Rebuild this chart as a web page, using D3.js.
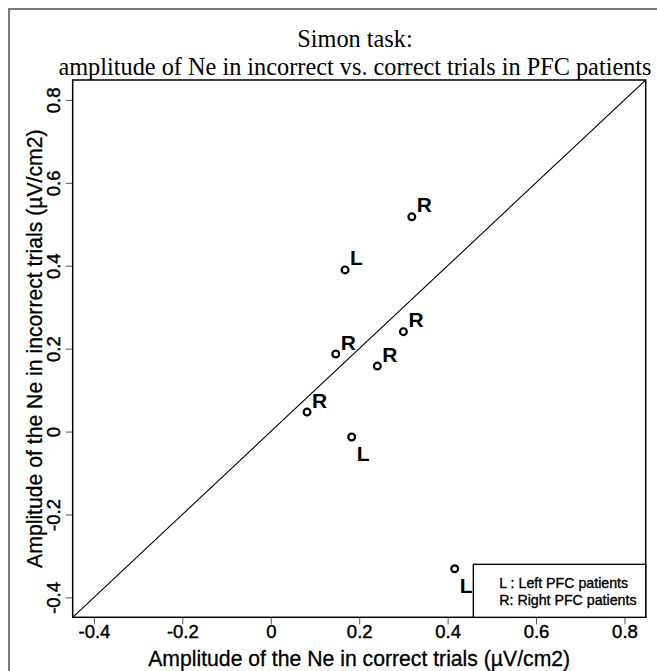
<!DOCTYPE html>
<html>
<head>
<meta charset="utf-8">
<script src="https://cdn.jsdelivr.net/npm/d3@7"></script>
<style>
  body { margin: 0; background: #fff; }
  svg { display: block; }
</style>
</head>
<body>
<div id="chart"></div>
<script>

// patients : side of the PFC lesion, Ne amplitude in correct / incorrect trials
const patientSide = ['R', 'L', 'R', 'R', 'R', 'R', 'L', 'L']
const correctNe = [0.319, 0.168, 0.300, 0.147, 0.241, 0.082, 0.183, 0.416]
const incorrectNe = [0.518, 0.390, 0.241, 0.187, 0.158, 0.047, -0.013, -0.331]
// label drawn under the point instead of above it
const labelBelow = [false, false, false, false, false, false, true, true]

const axisLimits = [-0.4, 0.8]
const xTicks = [-0.4, -0.2, 0, 0.2, 0.4, 0.6, 0.8]
const yTicks = [-0.4, -0.2, 0, 0.2, 0.4, 0.6, 0.8]
const tickLabels = ['-0.4', '-0.2', '0', '0.2', '0.4', '0.6', '0.8']

const titleLines = ['Simon task:', 'amplitude of Ne in incorrect vs. correct trials in PFC patients']
const xTitle = 'Amplitude of the Ne in correct trials (\u00b5V/cm2)'
const yTitle = 'Amplitude of the Ne in incorrect trials (\u00b5V/cm2)'
const legendLines = ['L : Left PFC patients', 'R: Right PFC patients']

let width = 657
	, height = 671
	, plot = { left: 72.7, right: 645.7, top: 80, bottom: 617.3 }
	, sans = "'Liberation Sans', Arial, sans-serif"
	, serif = "'Liberation Serif', 'Times New Roman', serif"

// R style limits : 4% expansion on each side
let pad = (axisLimits[1] - axisLimits[0]) * 0.04
	, domain = [axisLimits[0] - pad, axisLimits[1] + pad]

let x = d3.scaleLinear().domain(domain).range([plot.left, plot.right])
	, y = d3.scaleLinear().domain(domain).range([plot.bottom, plot.top])

let svg = d3.select('#chart')
	.append('svg')
	  .attr('width', width)
	  .attr('height', height)

// outer frame (runs off the picture on the right and bottom)
svg.append('rect')
	.attr('x', 9)
	.attr('y', 9)
	.attr('width', 700)
	.attr('height', 700)
	.attr('fill', 'none')
	.attr('stroke', '#7a7a7a')
	.attr('stroke-width', 2)

// title
svg.append('g')
	.selectAll('text')
	.data(titleLines)
	.join('text')
	  .attr('x', 355)
	  .attr('y', (d, i) => 47 + i * 28)
	  .attr('text-anchor', 'middle')
	  .attr('font-family', serif)
	  .attr('font-size', 24.3)
	  .text(d => d)

// slightly heavier sans text, like the scanned original
function heavy(sel, size) {
	sel.attr('font-family', sans)
	  .attr('font-size', size)
	  .attr('fill', '#000')
	  .attr('stroke', '#000')
	  .attr('stroke-width', 0.45)
}

// x axis
let xAxis = svg.append('g')
	.attr('transform', 'translate(0,' + plot.bottom + ')')
	.call(d3.axisBottom(x)
		.tickValues(xTicks)
		.tickFormat((d, i) => tickLabels[i])
		.tickSize(7)
		.tickSizeOuter(0)
		.tickPadding(1))

xAxis.select('.domain').remove()
xAxis.selectAll('line').attr('stroke', '#555')
xAxis.selectAll('text').call(heavy, 18.5)

// y axis, labels turned parallel to the axis
let yAxis = svg.append('g')
	.attr('transform', 'translate(' + plot.left + ',0)')
	.call(d3.axisLeft(y)
		.tickValues(yTicks)
		.tickFormat((d, i) => tickLabels[i])
		.tickSize(7)
		.tickSizeOuter(0))

yAxis.select('.domain').remove()
yAxis.selectAll('line').attr('stroke', '#555')
yAxis.selectAll('text')
	.attr('x', null)
	.attr('dy', null)
	.attr('text-anchor', 'middle')
	.attr('transform', 'translate(' + (60.5 - plot.left) + ',0) rotate(-90)')
	.call(heavy, 18.5)

// axis titles
svg.append('text')
	.attr('x', (plot.left + plot.right) / 2)
	.attr('y', 666)
	.attr('text-anchor', 'middle')
	.call(heavy, 21.2)
	.attr('stroke-width', 0.3)
	.text(xTitle)

svg.append('text')
	.attr('transform', 'translate(42,' + (plot.top + plot.bottom) / 2 + ') rotate(-90)')
	.attr('text-anchor', 'middle')
	.call(heavy, 21.2)
	.attr('stroke-width', 0.3)
	.text(yTitle)

// identity line, clipped to the plot box
svg.append('clipPath')
	.attr('id', 'plotClip')
	.append('rect')
	  .attr('x', plot.left)
	  .attr('y', plot.top)
	  .attr('width', plot.right - plot.left)
	  .attr('height', plot.bottom - plot.top)

svg.append('line')
	.attr('clip-path', 'url(#plotClip)')
	.attr('x1', x(domain[0]))
	.attr('y1', y(domain[0]))
	.attr('x2', x(domain[1]))
	.attr('y2', y(domain[1]))
	.attr('stroke', '#000')
	.attr('stroke-width', 1.1)

// plot box
svg.append('rect')
	.attr('x', plot.left)
	.attr('y', plot.top)
	.attr('width', plot.right - plot.left)
	.attr('height', plot.bottom - plot.top)
	.attr('fill', 'none')
	.attr('stroke', '#000')
	.attr('stroke-width', 1.5)

// points
let points = patientSide.map((s, i) => ({ side: s, cx: correctNe[i], ix: incorrectNe[i], below: labelBelow[i] }))

svg.append('g')
	.selectAll('circle')
	.data(points)
	.join('circle')
	  .attr('cx', d => x(d.cx))
	  .attr('cy', d => y(d.ix))
	  .attr('r', 3.4)
	  .attr('fill', 'none')
	  .attr('stroke', '#000')
	  .attr('stroke-width', 2.2)

svg.append('g')
	.selectAll('text')
	.data(points)
	.join('text')
	  .attr('x', d => x(d.cx) + 5)
	  .attr('y', d => y(d.ix) + (d.below ? 24.5 : -4.5))
	  .attr('font-family', sans)
	  .attr('font-weight', 'bold')
	  .attr('font-size', 21)
	  .text(d => d.side)

// legend box in the lower right corner
let legend = svg.append('g')

legend.append('rect')
	.attr('x', 473.3)
	.attr('y', 564.3)
	.attr('width', plot.right - 473.3)
	.attr('height', plot.bottom - 564.3)
	.attr('fill', '#fff')
	.attr('stroke', '#000')
	.attr('stroke-width', 1.3)

legend.selectAll('text')
	.data(legendLines)
	.join('text')
	  .attr('x', 499.3)
	  .attr('y', (d, i) => 588.3 + i * 16.7)
	  .call(heavy, 14.2)
	  .attr('stroke-width', 0.35)
	  .text(d => d)

</script>
</body>
</html>
